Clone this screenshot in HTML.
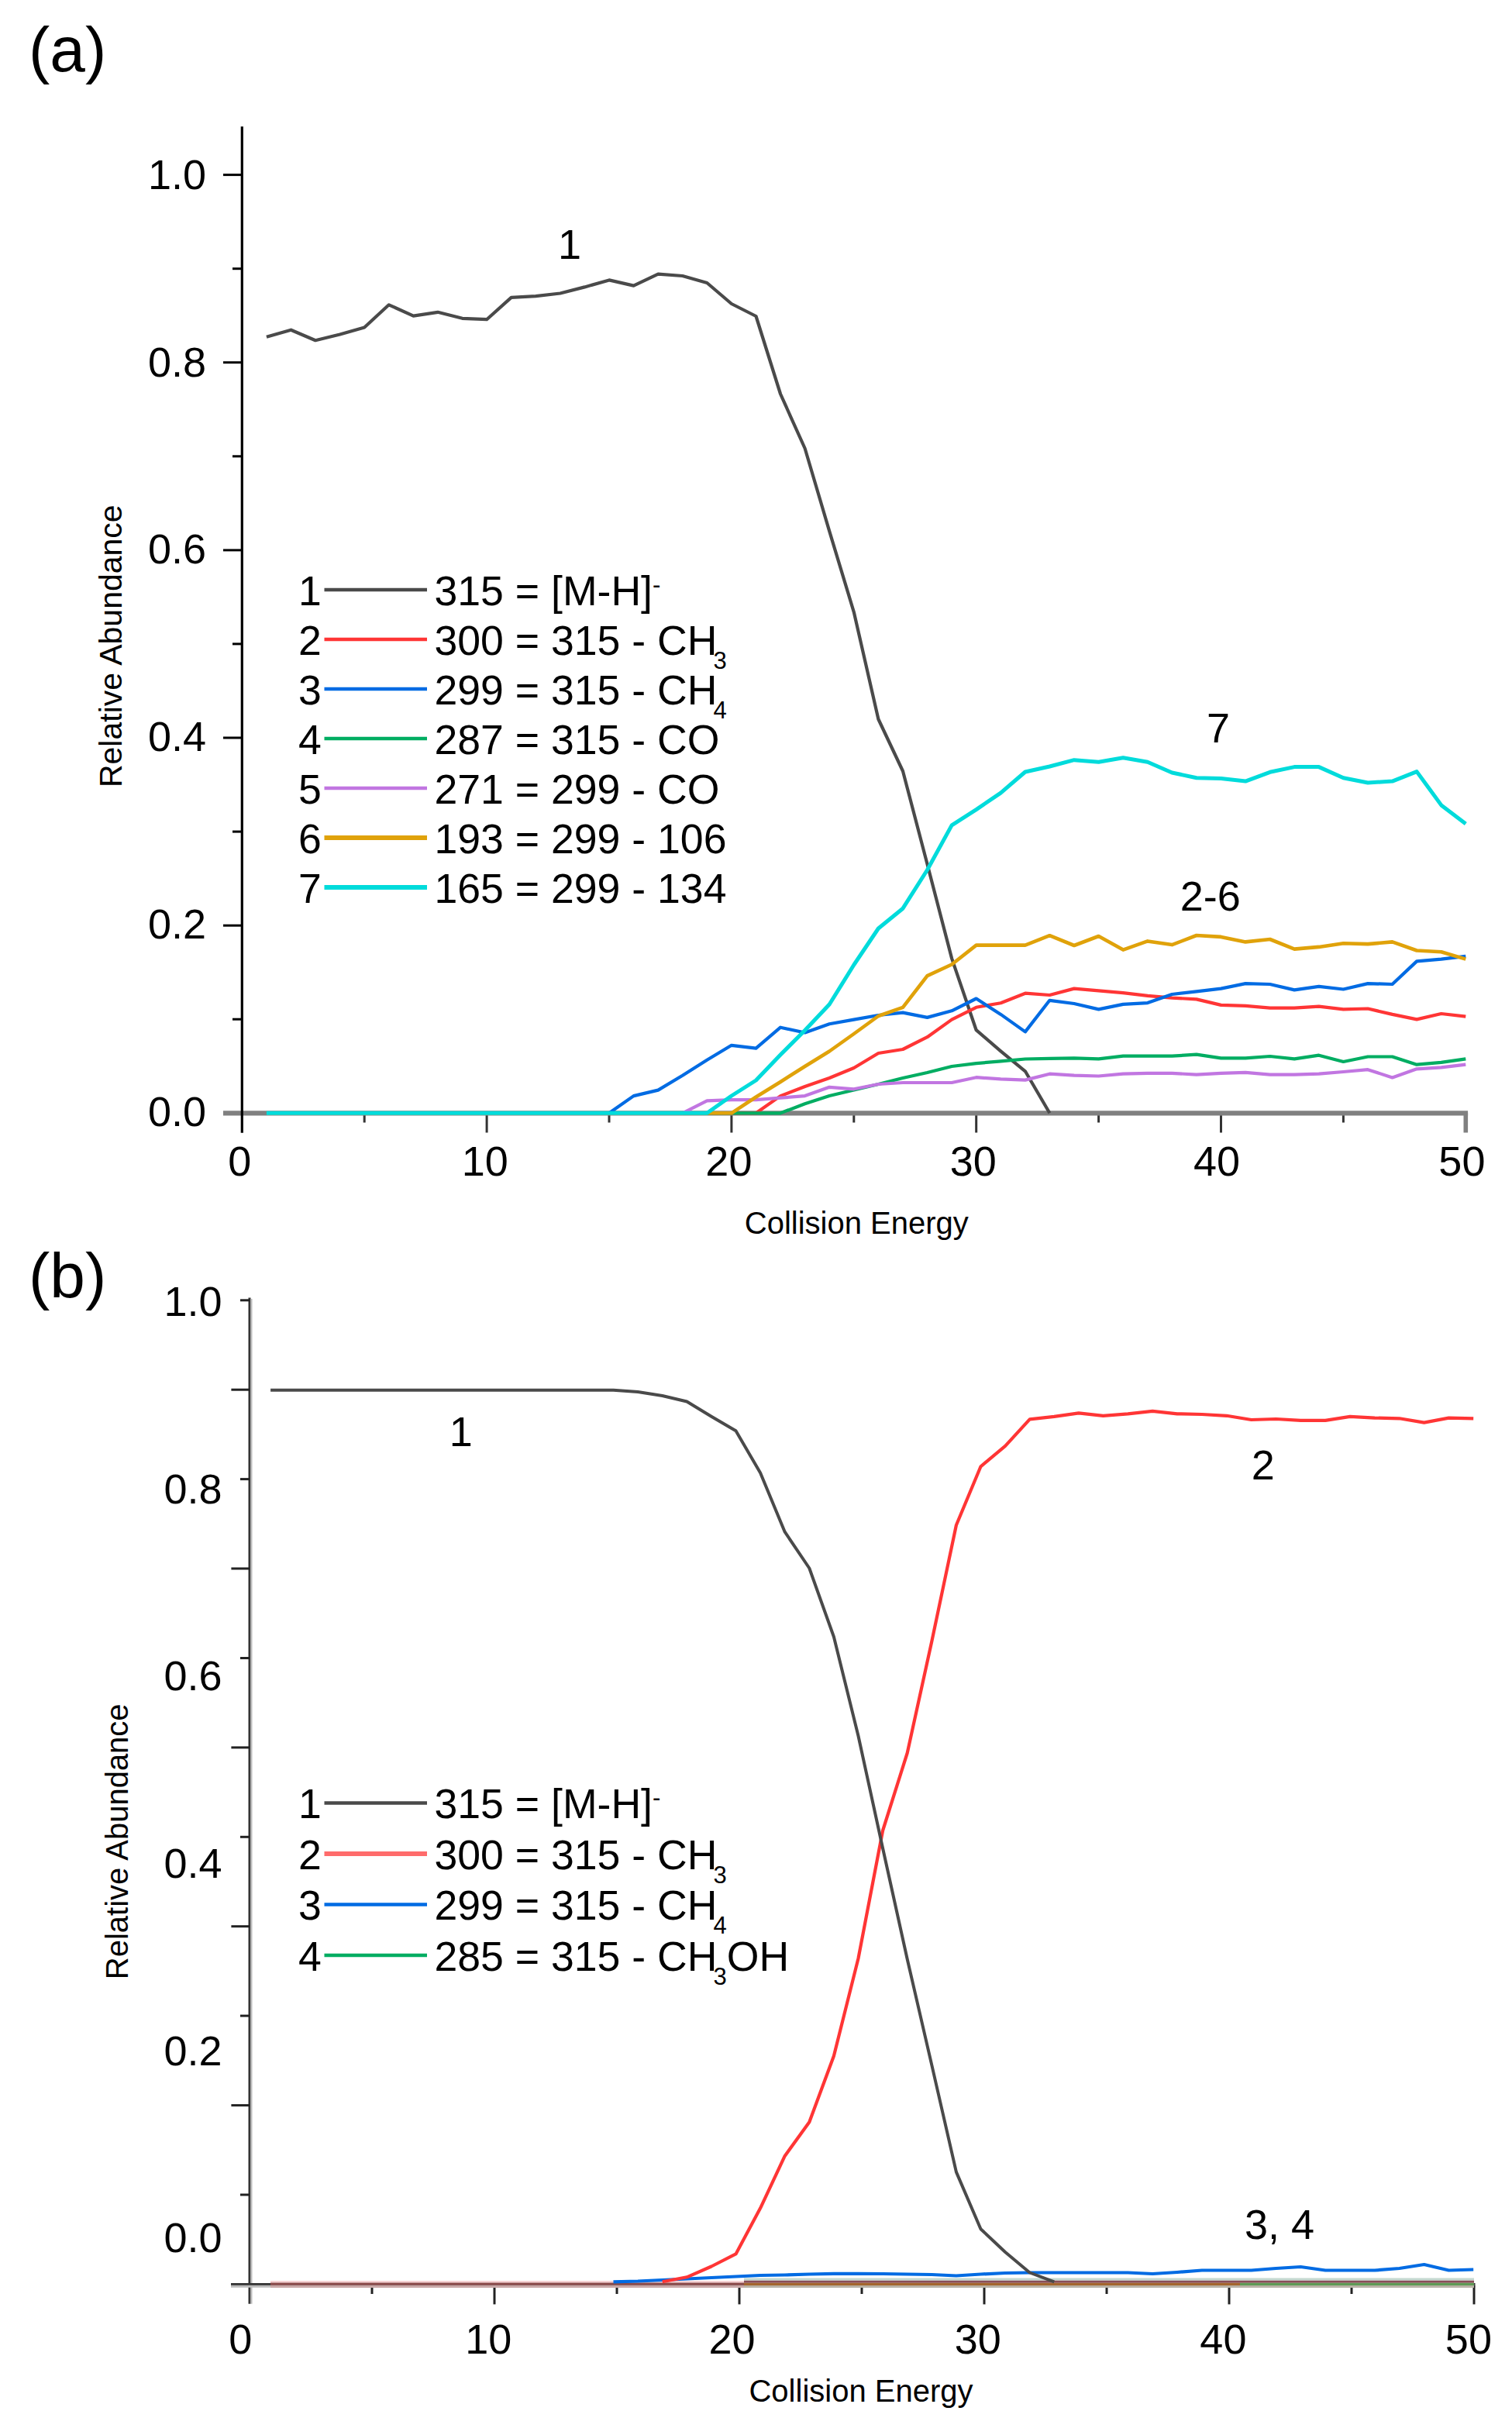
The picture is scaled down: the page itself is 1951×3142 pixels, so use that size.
<!DOCTYPE html>
<html><head><meta charset="utf-8"><title>Relative Abundance vs Collision Energy</title>
<style>html,body{margin:0;padding:0;background:#fff;}svg{display:block;} text{font-family:"Liberation Sans", Arial, sans-serif;fill:#000;}</style>
</head><body>
<svg width="1951" height="3142" viewBox="0 0 1951 3142">
<rect width="1951" height="3142" fill="#fff"/>
<text x="37" y="91.5" font-size="82">(a)</text>
<line x1="288" y1="1436.3" x2="1894.1" y2="1436.3" stroke="#808080" stroke-width="6.3"/>
<line x1="1891.3" y1="1436.3" x2="1891.3" y2="1461.5" stroke="#808080" stroke-width="5.6"/>
<line x1="470.2" y1="1439.3" x2="470.2" y2="1448.5" stroke="#333" stroke-width="3"/>
<line x1="628.1" y1="1439.3" x2="628.1" y2="1461.5" stroke="#333" stroke-width="3"/>
<line x1="786.0" y1="1439.3" x2="786.0" y2="1448.5" stroke="#333" stroke-width="3"/>
<line x1="943.9" y1="1439.3" x2="943.9" y2="1461.5" stroke="#333" stroke-width="3"/>
<line x1="1101.8" y1="1439.3" x2="1101.8" y2="1448.5" stroke="#333" stroke-width="3"/>
<line x1="1259.7" y1="1439.3" x2="1259.7" y2="1461.5" stroke="#333" stroke-width="3"/>
<line x1="1417.6" y1="1439.3" x2="1417.6" y2="1448.5" stroke="#333" stroke-width="3"/>
<line x1="1575.5" y1="1439.3" x2="1575.5" y2="1461.5" stroke="#333" stroke-width="3"/>
<line x1="1733.4" y1="1439.3" x2="1733.4" y2="1448.5" stroke="#333" stroke-width="3"/>
<line x1="312.3" y1="163.2" x2="312.3" y2="1461.7" stroke="#000" stroke-width="3.2"/>
<line x1="300" y1="1315.2" x2="312.3" y2="1315.2" stroke="#000" stroke-width="3"/>
<line x1="288" y1="1194.2" x2="312.3" y2="1194.2" stroke="#000" stroke-width="3"/>
<line x1="300" y1="1073.1" x2="312.3" y2="1073.1" stroke="#000" stroke-width="3"/>
<line x1="288" y1="952.0" x2="312.3" y2="952.0" stroke="#000" stroke-width="3"/>
<line x1="300" y1="830.9" x2="312.3" y2="830.9" stroke="#000" stroke-width="3"/>
<line x1="288" y1="709.9" x2="312.3" y2="709.9" stroke="#000" stroke-width="3"/>
<line x1="300" y1="588.8" x2="312.3" y2="588.8" stroke="#000" stroke-width="3"/>
<line x1="288" y1="467.7" x2="312.3" y2="467.7" stroke="#000" stroke-width="3"/>
<line x1="300" y1="346.7" x2="312.3" y2="346.7" stroke="#000" stroke-width="3"/>
<line x1="288" y1="225.6" x2="312.3" y2="225.6" stroke="#000" stroke-width="3"/>
<text x="266" y="1452.9" font-size="54" text-anchor="end">0.0</text>
<text x="266" y="1211.1" font-size="54" text-anchor="end">0.2</text>
<text x="266" y="969.3" font-size="54" text-anchor="end">0.4</text>
<text x="266" y="727.4" font-size="54" text-anchor="end">0.6</text>
<text x="266" y="485.6" font-size="54" text-anchor="end">0.8</text>
<text x="266" y="243.8" font-size="54" text-anchor="end">1.0</text>
<text x="309.2" y="1516.5" font-size="54" text-anchor="middle">0</text>
<text x="625.7" y="1516.5" font-size="54" text-anchor="middle">10</text>
<text x="940.4" y="1516.5" font-size="54" text-anchor="middle">20</text>
<text x="1255.8" y="1516.5" font-size="54" text-anchor="middle">30</text>
<text x="1570.0" y="1516.5" font-size="54" text-anchor="middle">40</text>
<text x="1886.4" y="1516.5" font-size="54" text-anchor="middle">50</text>
<text x="1105.3" y="1592.4" font-size="40" text-anchor="middle">Collision Energy</text>
<text transform="translate(156.8 833.7) rotate(-90)" font-size="41" text-anchor="middle">Relative Abundance</text>
<polyline points="343.9,434.7 375.5,425.7 407.0,439.2 438.6,431.5 470.2,422.5 501.8,393.3 533.4,407.7 564.9,402.8 596.5,410.8 628.1,412.2 659.7,383.9 691.3,382.1 722.8,378.5 754.4,370.4 786.0,361.4 817.6,368.6 849.2,353.7 880.7,356.0 912.3,365.0 943.9,392.0 975.5,408.0 1007.1,508.5 1038.6,578.5 1070.2,685.4 1101.8,789.8 1133.4,928.0 1165.0,995.0 1196.5,1115.0 1228.1,1236.6 1259.7,1329.2 1291.3,1356.3 1322.9,1382.3 1354.4,1436.3" fill="none" stroke="#4a4a4a" stroke-width="4.2" stroke-linejoin="round" stroke-linecap="butt"/>
<polyline points="343.9,1436.3 375.5,1436.3 407.0,1436.3 438.6,1436.3 470.2,1436.3 501.8,1436.3 533.4,1436.3 564.9,1436.3 596.5,1436.3 628.1,1436.3 659.7,1436.3 691.3,1436.3 722.8,1436.3 754.4,1436.3 786.0,1436.3 817.6,1436.3 849.2,1436.3 880.7,1436.3 912.3,1436.3 943.9,1436.3 975.5,1436.3 1007.1,1414.1 1038.6,1402.0 1070.2,1391.0 1101.8,1378.0 1133.4,1359.0 1165.0,1354.0 1196.5,1338.2 1228.1,1315.6 1259.7,1299.8 1291.3,1294.2 1322.9,1281.7 1354.4,1284.0 1386.0,1275.6 1417.6,1278.3 1449.2,1281.1 1480.8,1284.8 1512.3,1287.6 1543.9,1289.4 1575.5,1296.9 1607.1,1297.8 1638.7,1300.6 1670.2,1300.6 1701.8,1298.7 1733.4,1302.4 1765.0,1301.5 1796.6,1308.9 1828.1,1315.4 1859.7,1308.0 1891.3,1311.7" fill="none" stroke="#ff3535" stroke-width="4.2" stroke-linejoin="round" stroke-linecap="butt"/>
<polyline points="343.9,1436.3 375.5,1436.3 407.0,1436.3 438.6,1436.3 470.2,1436.3 501.8,1436.3 533.4,1436.3 564.9,1436.3 596.5,1436.3 628.1,1436.3 659.7,1436.3 691.3,1436.3 722.8,1436.3 754.4,1436.3 786.0,1436.3 817.6,1414.1 849.2,1406.6 880.7,1387.8 912.3,1367.7 943.9,1348.8 975.5,1352.6 1007.1,1325.7 1038.6,1332.5 1070.2,1321.2 1101.8,1315.6 1133.4,1310.0 1165.0,1306.6 1196.5,1312.9 1228.1,1304.3 1259.7,1288.5 1291.3,1308.9 1322.9,1331.4 1354.4,1290.8 1386.0,1295.0 1417.6,1302.4 1449.2,1295.9 1480.8,1294.1 1512.3,1283.0 1543.9,1279.3 1575.5,1275.6 1607.1,1269.1 1638.7,1270.0 1670.2,1277.4 1701.8,1272.8 1733.4,1276.5 1765.0,1269.1 1796.6,1270.0 1828.1,1240.4 1859.7,1237.6 1891.3,1233.9" fill="none" stroke="#006be3" stroke-width="4.2" stroke-linejoin="round" stroke-linecap="butt"/>
<polyline points="343.9,1436.3 375.5,1436.3 407.0,1436.3 438.6,1436.3 470.2,1436.3 501.8,1436.3 533.4,1436.3 564.9,1436.3 596.5,1436.3 628.1,1436.3 659.7,1436.3 691.3,1436.3 722.8,1436.3 754.4,1436.3 786.0,1436.3 817.6,1436.3 849.2,1436.3 880.7,1436.3 912.3,1436.3 943.9,1436.3 975.5,1436.3 1007.1,1436.3 1038.6,1424.2 1070.2,1414.0 1101.8,1406.5 1133.4,1399.0 1165.0,1391.0 1196.5,1384.0 1228.1,1376.0 1259.7,1372.1 1291.3,1369.4 1322.9,1366.5 1354.4,1365.8 1386.0,1365.4 1417.6,1366.3 1449.2,1362.6 1480.8,1362.6 1512.3,1362.6 1543.9,1360.7 1575.5,1365.4 1607.1,1365.4 1638.7,1363.0 1670.2,1366.3 1701.8,1361.7 1733.4,1370.0 1765.0,1363.5 1796.6,1363.5 1828.1,1373.7 1859.7,1370.9 1891.3,1366.3" fill="none" stroke="#00ad62" stroke-width="4.2" stroke-linejoin="round" stroke-linecap="butt"/>
<polyline points="343.9,1436.3 375.5,1436.3 407.0,1436.3 438.6,1436.3 470.2,1436.3 501.8,1436.3 533.4,1436.3 564.9,1436.3 596.5,1436.3 628.1,1436.3 659.7,1436.3 691.3,1436.3 722.8,1436.3 754.4,1436.3 786.0,1436.3 817.6,1436.3 849.2,1436.3 880.7,1436.3 912.3,1420.4 943.9,1419.2 975.5,1419.2 1007.1,1416.7 1038.6,1414.1 1070.2,1402.8 1101.8,1405.3 1133.4,1399.0 1165.0,1397.0 1196.5,1397.0 1228.1,1397.0 1259.7,1390.2 1291.3,1392.4 1322.9,1393.6 1354.4,1385.7 1386.0,1387.6 1417.6,1388.5 1449.2,1385.7 1480.8,1384.8 1512.3,1384.8 1543.9,1386.7 1575.5,1384.8 1607.1,1383.9 1638.7,1386.7 1670.2,1386.7 1701.8,1385.7 1733.4,1383.0 1765.0,1380.2 1796.6,1390.4 1828.1,1379.3 1859.7,1377.4 1891.3,1373.7" fill="none" stroke="#c176e1" stroke-width="4.2" stroke-linejoin="round" stroke-linecap="butt"/>
<polyline points="343.9,1436.3 375.5,1436.3 407.0,1436.3 438.6,1436.3 470.2,1436.3 501.8,1436.3 533.4,1436.3 564.9,1436.3 596.5,1436.3 628.1,1436.3 659.7,1436.3 691.3,1436.3 722.8,1436.3 754.4,1436.3 786.0,1436.3 817.6,1436.3 849.2,1436.3 880.7,1436.3 912.3,1436.3 943.9,1436.3 975.5,1415.5 1007.1,1396.0 1038.6,1376.0 1070.2,1356.5 1101.8,1334.0 1133.4,1311.0 1165.0,1299.8 1196.5,1259.2 1228.1,1244.5 1259.7,1219.6 1291.3,1219.6 1322.9,1219.6 1354.4,1207.2 1386.0,1220.0 1417.6,1208.0 1449.2,1225.6 1480.8,1214.4 1512.3,1219.1 1543.9,1207.0 1575.5,1208.9 1607.1,1215.4 1638.7,1212.0 1670.2,1224.6 1701.8,1221.9 1733.4,1217.2 1765.0,1218.1 1796.6,1215.4 1828.1,1226.5 1859.7,1228.3 1891.3,1237.6" fill="none" stroke="#e0a20a" stroke-width="4.6" stroke-linejoin="round" stroke-linecap="butt"/>
<polyline points="343.9,1436.3 375.5,1436.3 407.0,1436.3 438.6,1436.3 470.2,1436.3 501.8,1436.3 533.4,1436.3 564.9,1436.3 596.5,1436.3 628.1,1436.3 659.7,1436.3 691.3,1436.3 722.8,1436.3 754.4,1436.3 786.0,1436.3 817.6,1436.3 849.2,1436.3 880.7,1436.3 912.3,1436.3 943.9,1414.0 975.5,1394.0 1007.1,1361.0 1038.6,1329.5 1070.2,1296.0 1101.8,1245.0 1133.4,1198.0 1165.0,1172.2 1196.5,1122.5 1228.1,1064.9 1259.7,1044.6 1291.3,1023.1 1322.9,996.0 1354.4,989.0 1386.0,980.7 1417.6,983.3 1449.2,977.8 1480.8,983.3 1512.3,997.0 1543.9,1003.7 1575.5,1004.4 1607.1,1008.1 1638.7,996.3 1670.2,989.6 1701.8,989.6 1733.4,1003.7 1765.0,1010.0 1796.6,1008.1 1828.1,995.6 1859.7,1038.9 1891.3,1063.0" fill="none" stroke="#00dbdb" stroke-width="5.0" stroke-linejoin="round" stroke-linecap="butt"/>
<text x="735" y="334" font-size="54" text-anchor="middle">1</text>
<text x="1572" y="958" font-size="54" text-anchor="middle">7</text>
<text x="1561.8" y="1175" font-size="54" text-anchor="middle">2-6</text>
<text x="385" y="780.5" font-size="53.6">1</text>
<line x1="418.5" y1="761.0" x2="551" y2="761.0" stroke="#4a4a4a" stroke-width="4.5"/>
<text x="560.5" y="780.5" font-size="53.6">315 = [M-H]<tspan font-size="31" dy="-16">-</tspan></text>
<text x="385" y="844.5" font-size="53.6">2</text>
<line x1="418.5" y1="825.0" x2="551" y2="825.0" stroke="#ff3535" stroke-width="4.5"/>
<text x="560.5" y="844.5" font-size="53.6">300 = 315 - CH<tspan font-size="31" dx="-5" dy="18">3</tspan></text>
<text x="385" y="908.5" font-size="53.6">3</text>
<line x1="418.5" y1="889.0" x2="551" y2="889.0" stroke="#006be3" stroke-width="4.5"/>
<text x="560.5" y="908.5" font-size="53.6">299 = 315 - CH<tspan font-size="31" dx="-5" dy="18">4</tspan></text>
<text x="385" y="972.5" font-size="53.6">4</text>
<line x1="418.5" y1="953.0" x2="551" y2="953.0" stroke="#00ad62" stroke-width="4.5"/>
<text x="560.5" y="972.5" font-size="53.6">287 = 315 - CO</text>
<text x="385" y="1036.5" font-size="53.6">5</text>
<line x1="418.5" y1="1017.0" x2="551" y2="1017.0" stroke="#c176e1" stroke-width="4.5"/>
<text x="560.5" y="1036.5" font-size="53.6">271 = 299 - CO</text>
<text x="385" y="1100.5" font-size="53.6">6</text>
<line x1="418.5" y1="1081.0" x2="551" y2="1081.0" stroke="#e0a20a" stroke-width="6"/>
<text x="560.5" y="1100.5" font-size="53.6">193 = 299 - 106</text>
<text x="385" y="1164.5" font-size="53.6">7</text>
<line x1="418.5" y1="1145.0" x2="551" y2="1145.0" stroke="#00dbdb" stroke-width="6"/>
<text x="560.5" y="1164.5" font-size="53.6">165 = 299 - 134</text>
<text x="37" y="1673.5" font-size="82">(b)</text>
<line x1="322.0" y1="1674.5" x2="322.0" y2="2972.8" stroke="#333" stroke-width="3"/>
<line x1="324.5" y1="1676" x2="324.5" y2="2972.8" stroke="#bbb" stroke-width="2"/>
<line x1="310" y1="2832.0" x2="322.0" y2="2832.0" stroke="#222" stroke-width="3"/>
<line x1="298.4" y1="2716.6" x2="322.0" y2="2716.6" stroke="#222" stroke-width="3"/>
<line x1="310" y1="2601.1" x2="322.0" y2="2601.1" stroke="#222" stroke-width="3"/>
<line x1="298.4" y1="2485.7" x2="322.0" y2="2485.7" stroke="#222" stroke-width="3"/>
<line x1="310" y1="2370.3" x2="322.0" y2="2370.3" stroke="#222" stroke-width="3"/>
<line x1="298.4" y1="2254.9" x2="322.0" y2="2254.9" stroke="#222" stroke-width="3"/>
<line x1="310" y1="2139.5" x2="322.0" y2="2139.5" stroke="#222" stroke-width="3"/>
<line x1="298.4" y1="2024.0" x2="322.0" y2="2024.0" stroke="#222" stroke-width="3"/>
<line x1="310" y1="1908.6" x2="322.0" y2="1908.6" stroke="#222" stroke-width="3"/>
<line x1="298.4" y1="1793.2" x2="322.0" y2="1793.2" stroke="#222" stroke-width="3"/>
<line x1="310" y1="1677.8" x2="322.0" y2="1677.8" stroke="#222" stroke-width="3"/>
<line x1="298" y1="2947.4" x2="1903.5" y2="2947.4" stroke="#333" stroke-width="3"/>
<line x1="298" y1="2950.3" x2="1903.5" y2="2950.3" stroke="#bbb" stroke-width="3"/>
<line x1="480.0" y1="2949" x2="480.0" y2="2960" stroke="#222" stroke-width="3"/>
<line x1="638.0" y1="2949" x2="638.0" y2="2973.4" stroke="#222" stroke-width="3"/>
<line x1="796.0" y1="2949" x2="796.0" y2="2960" stroke="#222" stroke-width="3"/>
<line x1="954.0" y1="2949" x2="954.0" y2="2973.4" stroke="#222" stroke-width="3"/>
<line x1="1112.0" y1="2949" x2="1112.0" y2="2960" stroke="#222" stroke-width="3"/>
<line x1="1270.0" y1="2949" x2="1270.0" y2="2973.4" stroke="#222" stroke-width="3"/>
<line x1="1428.0" y1="2949" x2="1428.0" y2="2960" stroke="#222" stroke-width="3"/>
<line x1="1586.0" y1="2949" x2="1586.0" y2="2973.4" stroke="#222" stroke-width="3"/>
<line x1="1744.0" y1="2949" x2="1744.0" y2="2960" stroke="#222" stroke-width="3"/>
<line x1="1902.0" y1="2949" x2="1902.0" y2="2973.4" stroke="#222" stroke-width="3"/>
<text x="286.5" y="1698.3" font-size="54" text-anchor="end">1.0</text>
<text x="286.5" y="1939.9" font-size="54" text-anchor="end">0.8</text>
<text x="286.5" y="2181.4" font-size="54" text-anchor="end">0.6</text>
<text x="286.5" y="2423.0" font-size="54" text-anchor="end">0.4</text>
<text x="286.5" y="2664.5" font-size="54" text-anchor="end">0.2</text>
<text x="286.5" y="2906.1" font-size="54" text-anchor="end">0.0</text>
<text x="310.3" y="3037" font-size="54" text-anchor="middle">0</text>
<text x="630.3" y="3037" font-size="54" text-anchor="middle">10</text>
<text x="944.5" y="3037" font-size="54" text-anchor="middle">20</text>
<text x="1261.8" y="3037" font-size="54" text-anchor="middle">30</text>
<text x="1578.4" y="3037" font-size="54" text-anchor="middle">40</text>
<text x="1894.9" y="3037" font-size="54" text-anchor="middle">50</text>
<text x="1111" y="3099.4" font-size="40" text-anchor="middle">Collision Energy</text>
<text transform="translate(165 2376.3) rotate(-90)" font-size="40" text-anchor="middle">Relative Abundance</text>
<line x1="349" y1="2944.3" x2="960" y2="2944.3" stroke="#f6d2d4" stroke-width="2.8"/>
<line x1="349" y1="2947.2" x2="960" y2="2947.2" stroke="#8b4a4a" stroke-width="3.2"/>
<line x1="349" y1="2950.4" x2="960" y2="2950.4" stroke="#c9a8a8" stroke-width="3.2"/>
<line x1="960" y1="2941.2" x2="1902" y2="2941.2" stroke="#c4d8d0" stroke-width="3.2"/>
<line x1="960" y1="2944.3" x2="1902" y2="2944.3" stroke="#8a4d58" stroke-width="3.0"/>
<line x1="960" y1="2947.4" x2="1600" y2="2947.4" stroke="#a4662e" stroke-width="3.2"/>
<line x1="1600" y1="2947.4" x2="1902" y2="2947.4" stroke="#5f9a55" stroke-width="3.2"/>
<line x1="960" y1="2950.5" x2="1902" y2="2950.5" stroke="#b9b2a6" stroke-width="3.0"/>
<polyline points="791.5,2944.3 823.1,2943.5 854.7,2942.0 886.3,2940.5 917.9,2939.0 949.5,2937.5 981.1,2936.0 1012.7,2935.5 1044.3,2934.5 1075.9,2933.8 1107.5,2933.8 1139.1,2934.0 1170.7,2934.5 1202.3,2935.0 1233.9,2936.5 1265.5,2934.5 1297.1,2933.0 1328.7,2932.5 1360.3,2932.5 1391.9,2932.5 1423.5,2932.5 1455.4,2932.5 1487.2,2934.0 1519.0,2932.0 1550.9,2929.5 1582.8,2929.5 1614.6,2929.5 1646.5,2927.0 1678.3,2925.0 1710.2,2929.5 1742.0,2929.5 1773.9,2929.5 1805.7,2927.0 1837.6,2922.0 1869.4,2929.5 1901.2,2928.5" fill="none" stroke="#006be3" stroke-width="4.2" stroke-linejoin="round" stroke-linecap="butt"/>
<polyline points="854.7,2944.3 886.3,2938.3 917.9,2924.5 949.5,2908.4 981.1,2849.3 1012.7,2781.9 1044.3,2738.2 1075.9,2653.0 1107.5,2527.0 1139.1,2362.0 1170.7,2262.0 1202.3,2118.0 1233.9,1968.0 1265.5,1892.3 1297.1,1865.8 1328.7,1831.3 1360.3,1827.9 1391.9,1823.3 1423.5,1826.8 1455.4,1824.3 1487.2,1820.8 1519.0,1824.3 1550.9,1825.0 1582.8,1826.8 1614.6,1832.0 1646.5,1831.0 1678.3,1832.8 1710.2,1832.8 1742.0,1827.9 1773.9,1829.6 1805.7,1830.3 1837.6,1835.6 1869.4,1829.6 1901.2,1830.3" fill="none" stroke="#ff3535" stroke-width="4.2" stroke-linejoin="round" stroke-linecap="butt"/>
<polyline points="349.1,1793.7 380.7,1793.7 412.3,1793.7 443.9,1793.7 475.5,1793.7 507.1,1793.7 538.7,1793.7 570.3,1793.7 601.9,1793.7 633.5,1793.7 665.1,1793.7 696.7,1793.7 728.3,1793.7 759.9,1793.7 791.5,1793.7 823.1,1796.0 854.7,1801.0 886.3,1808.5 917.9,1827.7 949.5,1846.2 981.1,1900.4 1012.7,1976.7 1044.3,2023.5 1075.9,2112.0 1107.5,2240.0 1139.1,2385.0 1170.7,2528.0 1202.3,2664.6 1233.9,2802.6 1265.5,2876.2 1297.1,2906.0 1328.7,2932.5 1360.3,2944.3" fill="none" stroke="#4a4a4a" stroke-width="4.0" stroke-linejoin="round" stroke-linecap="butt"/>
<text x="594.8" y="1866" font-size="54" text-anchor="middle">1</text>
<text x="1629.8" y="1909" font-size="54" text-anchor="middle">2</text>
<text x="1651" y="2889" font-size="54" text-anchor="middle">3, 4</text>
<text x="385" y="2346.0" font-size="53.6">1</text>
<line x1="418.5" y1="2326.5" x2="551" y2="2326.5" stroke="#4a4a4a" stroke-width="4.5"/>
<text x="560.5" y="2346.0" font-size="53.6">315 = [M-H]<tspan font-size="31" dy="-16">-</tspan></text>
<text x="385" y="2411.5" font-size="53.6">2</text>
<line x1="418.5" y1="2392.0" x2="551" y2="2392.0" stroke="#ff6b6b" stroke-width="6"/>
<text x="560.5" y="2411.5" font-size="53.6">300 = 315 - CH<tspan font-size="31" dx="-5" dy="18">3</tspan></text>
<text x="385" y="2477.0" font-size="53.6">3</text>
<line x1="418.5" y1="2457.5" x2="551" y2="2457.5" stroke="#006be3" stroke-width="4.5"/>
<text x="560.5" y="2477.0" font-size="53.6">299 = 315 - CH<tspan font-size="31" dx="-5" dy="18">4</tspan></text>
<text x="385" y="2542.5" font-size="53.6">4</text>
<line x1="418.5" y1="2523.0" x2="551" y2="2523.0" stroke="#00ad62" stroke-width="4.5"/>
<text x="560.5" y="2542.5" font-size="53.6">285 = 315 - CH<tspan font-size="31" dx="-5" dy="18">3</tspan><tspan dy="-18">OH</tspan></text>
</svg>
</body></html>
